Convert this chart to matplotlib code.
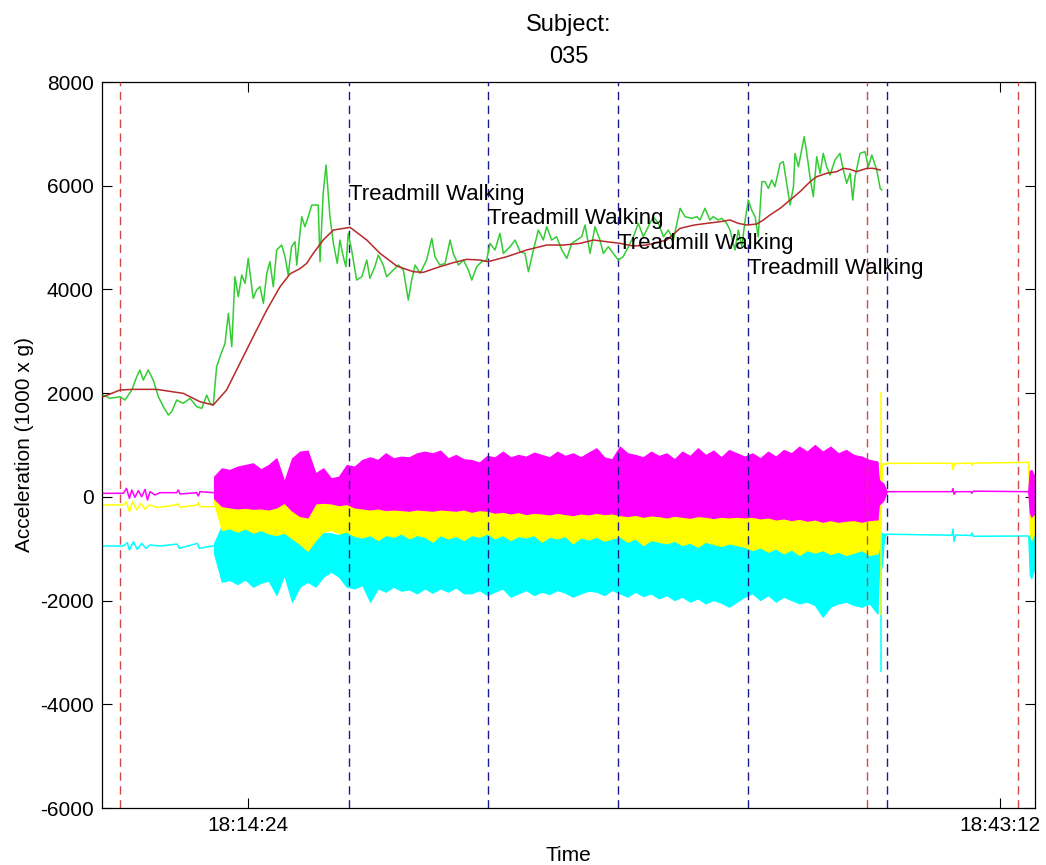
import numpy as np
import matplotlib
matplotlib.use("Agg")
import matplotlib.pyplot as plt

plt.rcParams['font.family'] = ['Liberation Sans', 'DejaVu Sans']

# All times are minutes after 18:00:00.
def clock_to_min(s):
    h, m, sec = (int(p) for p in s.split(":"))
    return (h - 18) * 60 + m + sec / 60.0

# ---------------- data ----------------
x_tick_labels = ["18:14:24", "18:43:12"]
y_ticks = [-6000, -4000, -2000, 0, 2000, 4000, 6000, 8000]
x_limits = [8.81, 44.54]

annotation_marks = [9.50, 38.11, 43.89]                 # red dashed
activity_marks = [18.27, 23.59, 28.57, 33.55, 38.87]     # blue dashed
activity_label = "Treadmill Walking"
label_levels = [5840, 5360, 4880, 4410]

# vector magnitude (green) and its moving average (red)
vm_t = [8.86, 9.12, 9.50, 9.69, 9.95, 10.14, 10.26, 10.39, 10.58, 10.77, 10.97, 11.16, 11.35, 11.48,
        11.67, 11.92, 12.18, 12.44, 12.63, 12.82, 12.95, 13.07, 13.20, 13.33, 13.52, 13.65, 13.78,
        13.90, 14.03, 14.16, 14.29, 14.41, 14.60, 14.73, 14.86, 14.99, 15.12, 15.24, 15.37, 15.50,
        15.69, 15.82, 15.94, 16.07, 16.20, 16.27, 16.39, 16.46, 16.58, 16.71, 16.84, 17.09, 17.16,
        17.28, 17.39, 17.54, 17.67, 17.82, 17.92, 18.05, 18.15, 18.24, 18.37, 18.56, 18.76, 18.95,
        19.07, 19.26, 19.39, 19.58, 19.71, 19.90, 20.16, 20.35, 20.54, 20.67, 20.80, 20.99, 21.24,
        21.44, 21.56, 21.75, 21.95, 22.14, 22.26, 22.46, 22.65, 22.84, 22.97, 23.16, 23.35, 23.54,
        23.67, 23.86, 24.05, 24.18, 24.44, 24.63, 24.82, 25.01, 25.14, 25.33, 25.52, 25.71, 25.84,
        26.03, 26.22, 26.42, 26.61, 26.80, 26.99, 27.18, 27.31, 27.50, 27.69, 27.88, 28.01, 28.20,
        28.39, 28.58, 28.77, 28.97, 29.16, 29.35, 29.54, 29.73, 29.92, 30.12, 30.31, 30.50, 30.69,
        30.95, 31.14, 31.39, 31.59, 31.71, 31.90, 32.09, 32.22, 32.41, 32.54, 32.73, 32.86, 33.05,
        33.18, 33.31, 33.44, 33.56, 33.69, 33.82, 33.94, 34.08, 34.20, 34.33, 34.46, 34.58, 34.78,
        34.90, 35.03, 35.16, 35.29, 35.35, 35.48, 35.70, 35.80, 35.93, 36.05, 36.18, 36.31, 36.43,
        36.56, 36.69, 36.88, 37.07, 37.20, 37.33, 37.46, 37.56, 37.65, 37.84, 38.03, 38.16, 38.29,
        38.48, 38.61, 38.67]
vm_v = [1963, 1899, 1931, 1867, 2060, 2317, 2446, 2253, 2446, 2253, 1931, 1738, 1578, 1642,
        1867, 1803, 1899, 1738, 1706, 1963, 1803, 1771, 2510, 2703, 2960, 3538, 2896,
        4245, 3860, 4278, 4117, 4599, 3828, 3988, 4053, 3731, 4310, 4535, 4053, 4760,
        4856, 4631, 4278, 4824, 4920, 4470, 5081, 5402, 5210, 5402, 5627, 5627, 4535,
        5852, 6399, 5402, 4888, 4502, 4952, 4631, 4438, 5081, 4760, 4181, 4245, 4567,
        4213, 4438, 4663, 4470, 4245, 4342, 4470, 4374, 3796, 4181, 4470, 4310, 4567,
        4985, 4631, 4470, 4503, 4953, 4695, 4470, 4567, 4374, 4181, 4438, 4535, 4567,
        4888, 4760, 5081, 4695, 4824, 4953, 4728, 4695, 4342, 4760, 5145, 4953, 5210,
        4953, 5017, 4760, 4599, 4888, 4953, 5017, 5242, 4695, 5210, 4953, 4695, 4824,
        4695, 4567, 4631, 4824, 5017, 5274, 5017, 5210, 5403, 5274, 5017, 5145, 4953,
        5564, 5403, 5371, 5403, 5339, 5564, 5339, 5403, 5339, 5371, 5274, 5146, 4760,
        5146, 4824, 5339, 5724, 5531, 5403, 5017, 6078, 6078, 5949, 6110, 5981, 6431,
        6464, 6046, 5628, 5981, 6624, 6367, 6946, 6624, 6142, 5789, 6560, 6239, 6624,
        6367, 6206, 6496, 6624, 6303, 6046, 6239, 5724, 6174, 6624, 6656, 6367, 6592,
        6303, 5949, 5917]

avg_t = [8.86, 9.50, 10.01, 10.90, 11.92, 12.56, 13.07, 13.58, 14.09, 14.60, 15.12, 15.63,
         16.01, 16.39, 16.65, 16.90, 17.28, 17.67, 18.31, 18.95, 19.46, 20.10, 20.73, 21.11,
         21.75, 22.26, 22.78, 23.29, 23.60, 24.31, 25.07, 25.84, 26.48, 27.12, 27.63, 28.14,
         28.65, 29.16, 29.67, 30.44, 30.95, 31.49, 31.97, 32.48, 32.86, 33.18, 33.50, 33.88,
         34.14, 34.39, 34.78, 35.16, 35.54, 35.93, 36.18, 36.56, 36.95, 37.20, 37.46, 37.71,
         37.90, 38.10, 38.35, 38.61]
avg_v = [1931, 2060, 2073, 2073, 1996, 1835, 1771, 2060, 2574, 3088, 3603, 4053,
         4300, 4400, 4503, 4695, 4953, 5145, 5197, 4953, 4695, 4451, 4342, 4329,
         4438, 4516, 4580, 4567, 4535, 4631, 4760, 4856, 4856, 4888, 4953, 4920,
         4888, 4837, 4856, 4953, 5178, 5242, 5274, 5306, 5339, 5274, 5242, 5261,
         5339, 5435, 5564, 5724, 5885, 6078, 6174, 6239, 6271, 6335, 6316, 6271,
         6303, 6335, 6335, 6303]

# Raw axes: quiet periods drawn as lines, active bout as min/max envelopes
mag_pre_t = [8.81, 9.63, 9.75, 9.86, 9.95, 10.07, 10.20, 10.33, 10.46, 10.55, 10.65, 10.84,
             11.03, 11.67, 11.73, 11.80, 12.43, 12.50, 12.56, 13.10]
mag_pre_v = [68, 68, 164, -29, 132, -10, 119, 3, 145, -61, 100, 36, 81, 81, 132, 55, 81, 16, 100, 80]
yel_pre_t = [8.81, 9.63, 9.75, 9.86, 9.98, 10.14, 10.29, 10.46, 10.62, 10.90, 11.41, 11.73,
             11.80, 12.46, 12.50, 12.56, 13.10]
yel_pre_v = [-157, -157, -93, -286, -93, -254, -125, -241, -157, -202, -177, -138, -202,
             -157, -112, -190, -190]
cya_pre_t = [8.81, 9.63, 9.78, 9.86, 10.01, 10.16, 10.33, 10.49, 10.65, 11.03, 11.69, 11.77,
             12.46, 12.54, 13.10]
cya_pre_v = [-948, -948, -884, -1025, -865, -1012, -897, -993, -929, -948, -910, -993,
             -897, -993, -942]

bout_t = np.linspace(13.1, 38.5, 86)
mag_hi = [389, 550, 518, 582, 614, 646, 531, 614, 743, 293, 743, 871, 891, 454, 550, 357, 389,
          614, 582, 711, 762, 711, 839, 743, 775, 762, 839, 871, 839, 891, 743, 807, 724,
          711, 659, 788, 762, 871, 762, 807, 775, 852, 807, 762, 871, 788, 839, 762, 852, 936,
          762, 724, 968, 839, 807, 762, 871, 788, 839, 724, 871, 788, 936, 807, 891, 762, 903, 839,
          775, 839, 743, 871, 775, 903, 839, 968, 871, 1000, 871, 968, 839, 903, 807, 775, 711, 679]
mag_lo = [-29, -176, -202, -221, -209, -228, -221, -241, -202, -112, -266, -369, -395, -125,
          -112, -125, -157, -138, -202, -221, -241, -221, -254, -241, -254, -266, -241, -254,
          -266, -241, -254, -266, -241,
          -286, -254, -266, -305, -286, -318, -292, -331, -305, -318, -337, -305, -331, -350,
          -318, -337, -305, -331, -318, -350, -369, -344, -382, -356, -369, -395, -363, -382,
          -401, -369, -382, -408, -382, -395, -382,
          -395, -382, -414, -395, -434, -414, -446, -421, -459, -434, -479, -446, -479, -459,
          -446, -479, -446, -434]
yel_hi = [-30] + [-60] * 49 + [-120] * 18 + [-180] * 18
yel_lo = [-125, -639, -607, -671, -607, -691, -639, -704, -736, -691, -800, -909, -1038, -832,
          -671, -639, -704, -671, -755, -781, -736, -832, -736, -768, -704, -800, -736, -768,
          -864, -736, -800, -755, -832,
          -736, -768, -704, -800, -736, -832, -755, -781, -736, -864, -768, -800, -755, -896,
          -781, -820, -768, -845, -800, -768, -864, -800, -929, -832, -864, -896, -845, -929,
          -884, -961, -864, -909, -948, -896, -929,
          -961, -1025, -974, -1057, -993, -1089, -1012, -1121, -1025, -1076, -1025, -1102,
          -1057, -1121, -1076, -1025, -1121, -1089]
cya_hi = ([-900] + [-560] * 13 + [-700, -705, -740] + [-560] * 16 + [-600] * 35 + [-800] * 18)
cya_lo = [-1089, -1636, -1603, -1681, -1591, -1732, -1655, -1616, -1893, -1507, -2021, -1732,
          -1636, -1732, -1539, -1443, -1539, -1732, -1764, -1700, -2021, -1764, -1828, -1732,
          -1809, -1783, -1860, -1764, -1848, -1764, -1828, -1745, -1860,
          -1860, -1796, -1893, -1828, -1764, -1925, -1860, -1796, -1893, -1828, -1873, -1796,
          -1848, -1925, -1860, -1809, -1828, -1893, -1796, -1860, -1925, -1828, -1912, -1860,
          -1957, -1893, -1989, -1925, -2021, -1957, -2053, -1989, -2041, -2118, -2021,
          -1925, -1860, -1989, -1893, -2021, -1925, -1989, -2053, -2021, -2086, -2310, -2118,
          -2053, -2021, -2086, -2118, -2053, -2246]

# end of the bout (device handling)
tail_t = [38.50, 38.56, 38.62, 38.68, 38.74, 38.80, 38.86]
mag_tail_hi = [679, 330, 300, 280, 250, 180, 100]
mag_tail_lo = [-434, -150, -120, -100, -60, 20, 100]
yel_tail_hi = [-180, -250, 600, 646, 646, 646, 646]
yel_tail_lo = [-1089, -1000, -300, 600, 646, 646, 646]
cya_tail_hi = [-800, -700, -680, -700, -710, -720, -720]
cya_tail_lo = [-2246, -1500, -1450, -1300, -900, -730, -720]
yel_spike = (38.65, -2279, 2028)
cya_spike = (38.66, -3371, -1400)

mag_post_t = [38.86, 41.36, 41.40, 41.44, 41.50, 42.08, 42.12, 42.18, 44.28]
mag_post_v = [100, 100, 160, 50, 100, 100, 70, 110, 100]
yel_post_t = [38.86, 41.36, 41.40, 41.46, 42.08, 42.12, 42.18, 44.28]
yel_post_v = [646, 650, 520, 640, 655, 610, 650, 665]
cya_post_t = [38.86, 41.36, 41.40, 41.44, 41.50, 42.08, 42.12, 42.18, 44.28]
cya_post_v = [-720, -740, -620, -860, -735, -745, -700, -760, -755]

last_t = [44.28, 44.34, 44.40, 44.46, 44.54]
mag_last_hi = [100, 500, 520, 450, 400]
mag_last_lo = [100, -300, -380, -350, -300]
yel_last_hi = [665, 200, 100, 150, 100]
yel_last_lo = [665, -700, -830, -750, -700]
cya_last_hi = [-755, -760, -770, -760, -760]
cya_last_lo = [-755, -1500, -1570, -1450, -1400]

# ---------------- figure ----------------
W, H = 1046, 865
fig = plt.figure(figsize=(W / 100, H / 100), dpi=100)
ax = fig.add_axes([102 / W, 1 - 808 / H, (1035 - 102) / W, (808 - 82) / H])

MAG, YEL, CYA = '#ff00ff', '#ffff00', '#00ffff'

def draw_channel(color, pre_t, pre_v, hi, lo, t_hi, t_lo, post_t, post_v, l_hi, l_lo, z):
    ax.plot(pre_t, pre_v, color=color, lw=1.1, zorder=z)
    ax.fill_between(bout_t, lo, hi, color=color, lw=0.9, edgecolor=color, zorder=z)
    ax.fill_between(tail_t, t_lo, t_hi, color=color, lw=0.9, edgecolor=color, zorder=z)
    ax.plot(post_t, post_v, color=color, lw=1.1, zorder=z)
    ax.fill_between(last_t, l_lo, l_hi, color=color, lw=0.9, edgecolor=color, zorder=z)

draw_channel(CYA, cya_pre_t, cya_pre_v, cya_hi, cya_lo, cya_tail_hi, cya_tail_lo,
             cya_post_t, cya_post_v, cya_last_hi, cya_last_lo, 2.0)
ax.vlines(cya_spike[0], cya_spike[1], cya_spike[2], color=CYA, lw=1.1, zorder=2.0)
draw_channel(YEL, yel_pre_t, yel_pre_v, yel_hi, yel_lo, yel_tail_hi, yel_tail_lo,
             yel_post_t, yel_post_v, yel_last_hi, yel_last_lo, 2.1)
ax.vlines(yel_spike[0], yel_spike[1], yel_spike[2], color=YEL, lw=1.1, zorder=2.1)
draw_channel(MAG, mag_pre_t, mag_pre_v, mag_hi, mag_lo, mag_tail_hi, mag_tail_lo,
             mag_post_t, mag_post_v, mag_last_hi, mag_last_lo, 2.2)

for t in annotation_marks:
    ax.axvline(t, color='#d04848', lw=1.0, dashes=(6, 4), zorder=3)
for t in activity_marks:
    ax.axvline(t, color='#1a1a8c', lw=1.0, dashes=(6, 4), zorder=3)

ax.plot(vm_t, vm_v, color='#33cc33', lw=1.1, zorder=4)
ax.plot(avg_t, avg_v, color='#b52a2a', lw=1.1, zorder=4.1)

for t, lv in zip(activity_marks[:4], label_levels):
    ax.text(t, lv, activity_label, fontsize=16, ha='left', va='center', zorder=5)

ax.set_xlim(*x_limits)
ax.set_ylim(-6000, 8000)
ax.set_yticks(y_ticks)
ax.set_yticklabels([str(v) for v in y_ticks])
ax.set_xticks([clock_to_min(s) for s in x_tick_labels])
ax.set_xticklabels(x_tick_labels)
ax.tick_params(direction='in', length=7, width=0.8, labelsize=15,
               top=True, right=True, pad=6)
for sp in ax.spines.values():
    sp.set_linewidth(0.9)

ax.set_xlabel("Time", fontsize=15, labelpad=8)
ax.set_ylabel("Acceleration (1000 x g)", fontsize=15, labelpad=4)
ax.set_title("Subject:\n035", fontsize=17, linespacing=1.55, pad=14)

fig.savefig("out.png", dpi=100)
